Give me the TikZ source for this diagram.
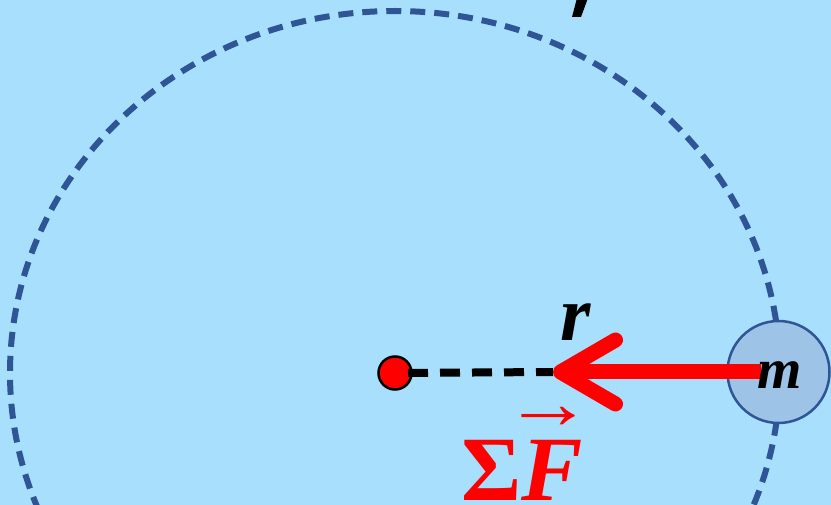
\documentclass[tikz,border=0pt]{standalone}
\usepackage{fontspec}
\setmainfont{Liberation Serif}
\usepackage{xcolor}
\usepackage{graphicx}
\usetikzlibrary{positioning, arrows.meta, calc}
\definecolor{skybg}{RGB}{167,223,252}
\definecolor{orbitblue}{RGB}{47,85,151}
\definecolor{massfill}{RGB}{157,195,230}
\tikzset{
  orbitline/.style={
    draw=orbitblue,
    line width=6pt,
    dash pattern=on 15pt off 9pt
  },
  centredot/.style={
    circle,
    draw=black,
    fill=red,
    line width=2.5pt,
    minimum size=33pt,
    inner sep=0pt
  },
  massball/.style={
    circle,
    draw=orbitblue,
    fill=massfill,
    line width=2.5pt,
    minimum size=102pt,
    inner sep=0pt
  },
  radiusline/.style={
    line width=8pt,
    dash pattern=on 20pt off 12pt
  },
  forcearrow/.style={
    draw=red,
    line width=15pt,
    -{Straight Barb[length=55pt, width=64pt, round]}
  },
  varlabel/.style={
    font=\bfseries\itshape,
    inner sep=0pt
  }
}
\begin{document}
\begin{tikzpicture}[x=1pt, y=-1pt]
  \useasboundingbox (0,0) rectangle (831,505);
  \fill[skybg] (0,0) rectangle (831,505);
  % orbit and the cut-off mark at the top
  \draw[orbitline] (395,373) ellipse [x radius=385, y radius=362];
  \fill (577,-2) -- (588,-2) -- (581,17) -- (572,17) -- cycle;
  \node[massball] (mass) at (778.5,372) {};
  \node[centredot] (dot) at (395,373) {};
  \coordinate (tip) at (553,372);
  \draw[radiusline, shorten <=13pt] (dot.center) -- (tip);
  \draw[forcearrow, shorten <=18pt] (mass.center) -- (tip);
  % labels
  \node[varlabel, font=\fontsize{57}{57}\selectfont\bfseries\itshape] (mlabel) at (780,375) {m};
  \node[varlabel, font=\fontsize{78}{78}\selectfont\bfseries\itshape] (rlabel) at (576,322) {r};
  \node[varlabel, text=red, anchor=base, font=\fontsize{92}{92}\selectfont\bfseries] (forcelabel) at (522,500)
    {Σ\kern-18pt\rlap{\raisebox{72pt}{\scalebox{1.2}[1]{\fontsize{75}{75}\selectfont\mdseries\upshape →}}}\kern18pt\itshape F};
\end{tikzpicture}
\end{document}
